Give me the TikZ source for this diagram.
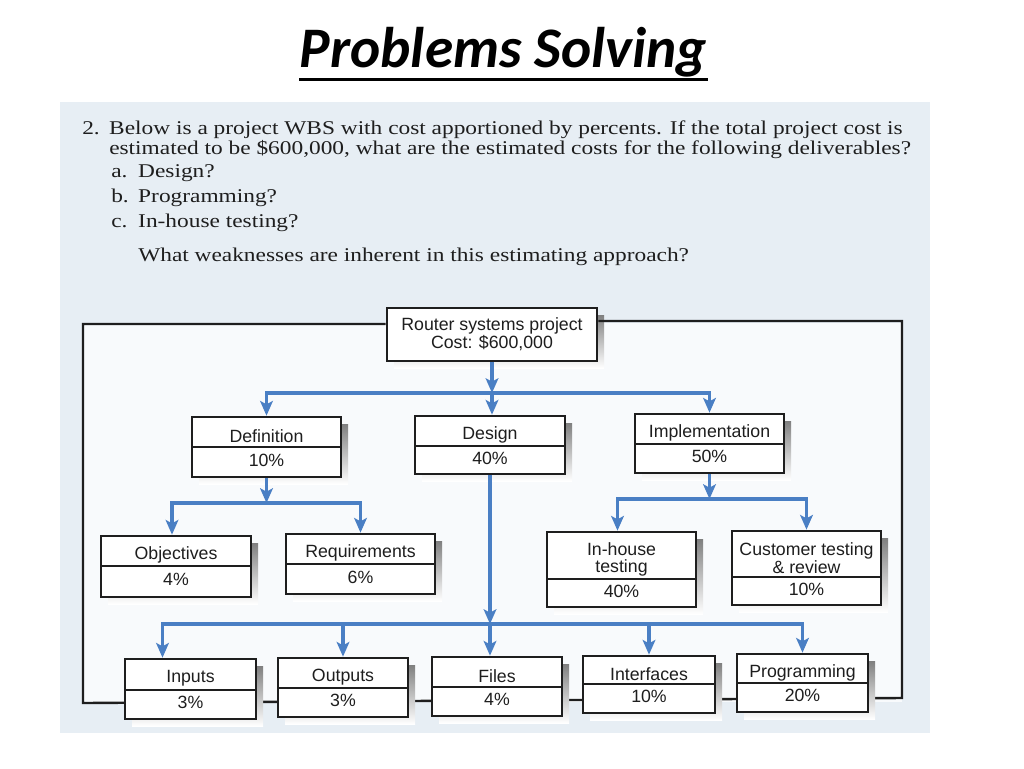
\documentclass[tikz,border=0pt]{standalone}
\usepackage{fontspec}
\usepackage{xcolor}
\usepackage{tikz}
\usetikzlibrary{arrows.meta,positioning,calc}
\newfontfamily\titlefont{Carlito}
\newfontfamily\qfont[FakeStretch=1.2]{Liberation Serif}
\newfontfamily\boxfont{Liberation Sans}
\definecolor{scanbg}{HTML}{E7EEF4}
\definecolor{paper}{HTML}{F8FAFC}
\definecolor{wbsblue}{HTML}{4A7FC4}
\definecolor{shade}{HTML}{DEDFE1}
\definecolor{ink}{HTML}{1E1E1E}

\tikzset{
  wbs/.style={draw=ink,line width=2pt,fill=white,inner sep=0pt},
  wbstext/.style={font=\boxfont\fontsize{13.3}{13}\selectfont,text=ink,align=center,inner sep=0pt},
  qtext/.style={font=\qfont\fontsize{14.6}{16}\selectfont,text=ink,anchor=base west,inner sep=0pt},
  flow/.style={draw=wbsblue,line width=2.6pt},
  flowarrow/.style={-{Stealth[length=11pt,width=9.5pt,inset=2.5pt]}},
  frame/.style={draw=ink,line width=1.8pt}
}

\begin{document}
\begin{tikzpicture}[x=0.75pt,y=-0.75pt]
  \useasboundingbox (0,0) rectangle (1024,768);
  % title and the scanned exercise
  \node[font=\titlefont\bfseries\itshape\fontsize{43}{43}\selectfont,anchor=base,inner sep=0pt] (title) at (503.5,67) {Problems Solving};
  \draw[line width=2.2pt] ([yshift=-9.5pt]title.base west) -- ([yshift=-9.5pt]title.base east);
  \fill[scanbg] (60,102) rectangle (930,733);
  \fill[paper] (83,323) rectangle (902,702);
  \node[qtext] (q1) at (82,134) {\makebox[20.25pt][l]{2.}Below is a project WBS with cost apportioned by percents. If the total project cost is};
  \node[qtext] (q2) at (109,154) {estimated to be \$600,000, what are the estimated costs for the following deliverables?};
  \node[qtext] (qa) at (111,177) {\makebox[20.25pt][l]{a.}Design?};
  \node[qtext] (qb) at (111,202) {\makebox[20.25pt][l]{b.}Programming?};
  \node[qtext] (qc) at (111,227) {\makebox[20.25pt][l]{c.}In-house testing?};
  \node[qtext] (qw) at (138,261) {What weaknesses are inherent in this estimating approach?};

  % frame around the WBS
  \coordinate (fTL) at (83,324);
  \coordinate (fBL) at (83,703);
  \coordinate (fBR) at (902,698);
  \coordinate (fTR) at (902,321);
  \fill[shade] (394,315) rectangle (604,368);
  \node[wbs,minimum width=157.5pt,minimum height=39.75pt,align=center,font=\boxfont\fontsize{13.3}{13.5}\selectfont,text=ink] (root) at (492,334.5) {Router systems project\\Cost: \$600,000};
  \draw[frame] (root.west |- fTL) -- (fTL) -- (fBL) -- (fBR) -- (fTR) -- (root.east |- fTR);

  % work packages: name/left/top/right/bottom/divider/label/share
  \foreach \n/\xa/\ya/\xb/\yb/\yd/\lbl/\pct in {
      def/192/417/341/477/447/Definition/10\%,
      des/415/416/565/474/446/Design/40\%,
      impl/635/414/784/473/444/Implementation/50\%,
      obj/101/536/251/597/566/Objectives/4\%,
      req/286/534/435/594/564/Requirements/6\%,
      inh/547/532/696/607/579/{In-house\\testing}/40\%,
      cus/732/531/881/605/577/{Customer testing\\\& review}/10\%,
      inp/125/659/256/719/690/Inputs/3\%,
      out/278/658/408/717/688/Outputs/3\%,
      fil/432/657/562/716/687/Files/4\%,
      itf/583/656/715/713/684/Interfaces/10\%,
      prg/737/654/868/712/683/Programming/20\%}{
    \fill[shade] (\xa+7,\ya+7) rectangle (\xb+7,\yb+7);
    \node[wbs,minimum width={(\xb-\xa)*0.75pt},minimum height={(\yb-\ya)*0.75pt}] (\n) at ({(\xa+\xb)/2},{(\ya+\yb)/2}) {};
    \draw[ink,line width=0.8pt] (\xa,\yd) -- (\xb,\yd);
    \node[wbstext] (\n-l) at ({(\xa+\xb)/2},{(\ya+\yd)/2+4}) {\lbl};
    \node[wbstext] (\n-p) at ({(\xa+\xb)/2},{(\yd+\yb)/2-2}) {\pct};
  }

  % connectors
  \coordinate (b1) at (0,393);
  \coordinate (b2l) at (0,503);
  \coordinate (b2r) at (0,499);
  \coordinate (b3) at (0,624);
  \draw[flow,flowarrow] (root.south) -- (root.south |- b1);
  \draw[flow,flowarrow] (root.south |- b1) -| (def.north);
  \draw[flow,flowarrow] (root.south |- b1) -| (impl.north);
  \draw[flow,flowarrow] (root.south |- b1) -- (root.south |- des.north);
  \draw[flow,flowarrow] (def.south) -- (def.south |- b2l);
  \draw[flow,flowarrow] (def.south |- b2l) -| ([xshift=-3pt]obj.north);
  \draw[flow,flowarrow] (def.south |- b2l) -| (req.north);
  \draw[flow,flowarrow] (impl.south) -- (impl.south |- b2r);
  \draw[flow,flowarrow] (impl.south |- b2r) -| ([xshift=-3pt]inh.north);
  \draw[flow,flowarrow] (impl.south |- b2r) -| (cus.north);
  \draw[flow,flowarrow] (des.south) -- (des.south |- b3);
  \draw[flow,flowarrow] (des.south |- b3) -| ([xshift=-21pt]inp.north);
  \draw[flow,flowarrow] (des.south |- b3) -| (out.north);
  \draw[flow,flowarrow] (des.south |- b3) -- (des.south |- fil.north);
  \draw[flow,flowarrow] (des.south |- b3) -| (itf.north);
  \draw[flow,flowarrow] (des.south |- b3) -| (prg.north);
\end{tikzpicture}
\end{document}
